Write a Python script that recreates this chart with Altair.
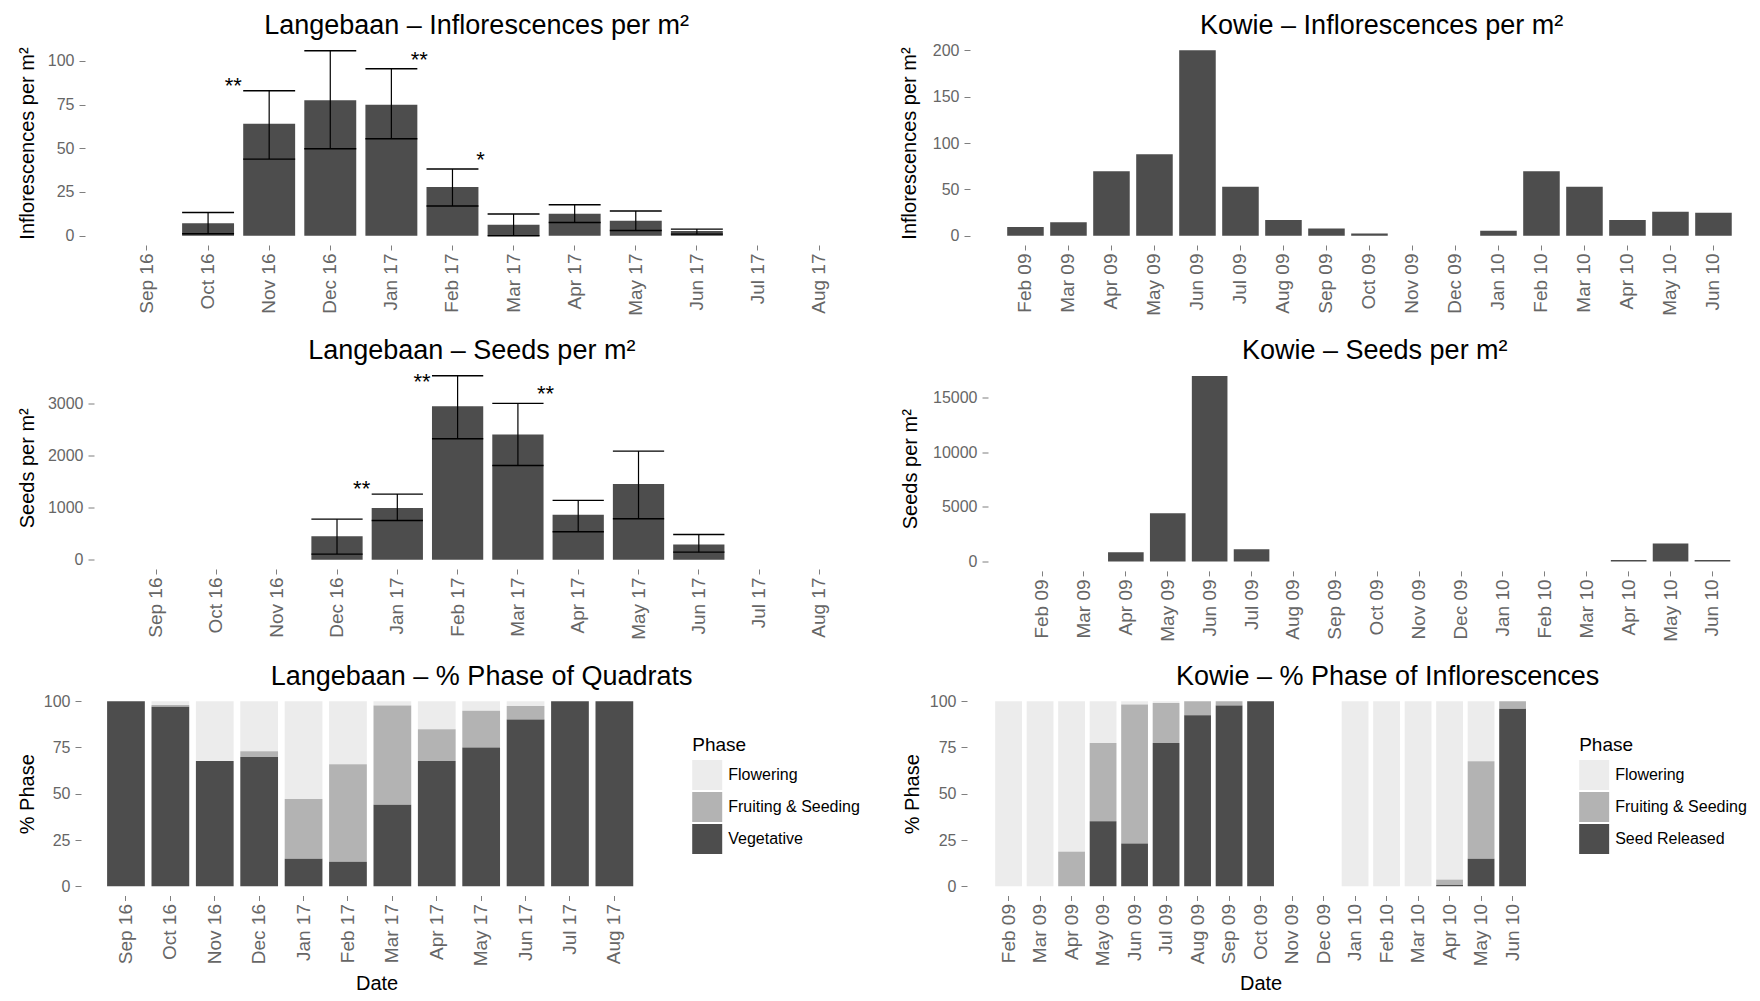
import altair as alt
import pandas as pd

FONT = "Liberation Sans"
BAR = "#4d4d4d"
LBL = "#666666"
TCK = "#7f7f7f"

# ---------------- data ----------------
lang_months = ["Sep 16", "Oct 16", "Nov 16", "Dec 16", "Jan 17", "Feb 17",
               "Mar 17", "Apr 17", "May 17", "Jun 17", "Jul 17", "Aug 17"]
kowie_months = ["Feb 09", "Mar 09", "Apr 09", "May 09", "Jun 09", "Jul 09",
                "Aug 09", "Sep 09", "Oct 09", "Nov 09", "Dec 09", "Jan 10",
                "Feb 10", "Mar 10", "Apr 10", "May 10", "Jun 10"]

lang_infl_mean = [None, 7.2, 64.0, 77.5, 74.9, 27.8, 6.3, 12.6, 8.6, 2.7, None, None]
lang_infl_lo = [None, 1.1, 43.8, 49.7, 55.4, 17.0, 0.0, 7.6, 3.0, 0.9, None, None]
lang_infl_hi = [None, 13.3, 82.9, 105.7, 95.4, 38.1, 12.4, 17.7, 14.1, 3.8, None, None]
lang_infl_star_month = ["Nov 16", "Jan 17", "Feb 17"]
lang_infl_star_label = ["**", "**", "*"]
lang_infl_star_side = ["left", "right", "right"]
lang_infl_star_y = [88.2, 103.4, 45.9]

lang_seed_mean = [None, None, None, 454, 992, 2943, 2405, 864, 1452, 294, None, None]
lang_seed_lo = [None, None, None, 109, 755, 2322, 1810, 537, 787, 147, None, None]
lang_seed_hi = [None, None, None, 780, 1260, 3531, 3000, 1139, 2085, 486, None, None]
lang_seed_star_month = ["Jan 17", "Feb 17", "Mar 17"]
lang_seed_star_label = ["**", "**", "**"]
lang_seed_star_side = ["left", "left", "right"]
lang_seed_star_y = [1460, 3500, 3280]

kowie_infl = [9.4, 14.4, 69.4, 87.8, 200.0, 52.9, 16.9, 7.9, 2.5, None, None,
              5.5, 69.4, 52.9, 16.9, 25.9, 24.8]
kowie_seed = [None, None, 854, 4421, 16983, 1128, None, None, None, None, None,
              None, None, None, 150, 1646, 150]

lang_phases = ["Flowering", "Fruiting & Seeding", "Vegetative"]
lang_veg = [100, 97, 67.7, 69.9, 14.8, 13.3, 44.1, 67.7, 75.0, 90.1, 100, 100]
lang_fruit = [0, 1, 0, 3.1, 32.4, 52.6, 53.6, 17.2, 19.8, 7.4, 0, 0]
lang_flow = [0, 2, 32.3, 27.0, 52.8, 34.1, 2.3, 15.1, 5.2, 2.5, 0, 0]

kowie_phases = ["Flowering", "Fruiting & Seeding", "Seed Released"]
kowie_seedrel = [0, 0, 0, 35.1, 23.1, 77.5, 92.4, 97.7, 100, None, None, 0, 0, 0, 0.7, 14.8, 96.0]
kowie_fruit = [0, 0, 18.7, 42.4, 75.1, 21.6, 7.6, 2.3, 0, None, None, 0, 0, 0, 2.9, 52.8, 4.0]
kowie_flow = [100, 100, 81.3, 22.5, 1.8, 0.9, 0, 0, 0, None, None, 100, 100, 100, 96.4, 32.4, 0]

PHASE_RANGE = ["#ececec", "#b3b3b3", "#4d4d4d"]


# ---------------- helpers ----------------
def xscale(months, L, R, pi=0.15):
    po = (L + R - 1 + pi) / 2
    a = (L - (1 - pi) / 2) / (2 * po)
    return alt.Scale(domain=months, paddingInner=pi, paddingOuter=po, align=a)


def xaxis(title=None):
    kw = dict(labelAngle=270, labelFontSize=19, labelColor=LBL, tickColor=TCK,
              tickSize=5, labelPadding=3, domain=False, grid=False,
              titleFontSize=20, titleFontWeight="normal", titleColor="#000000",
              titlePadding=8)
    kw["title"] = title if title else None
    return alt.Axis(**kw)


def yaxis(title, values, pad, off):
    return alt.Axis(title=title, values=values, format="d", labelFontSize=16,
                    labelColor=LBL, tickColor=TCK, tickSize=6, labelPadding=5,
                    domain=False, grid=False, titleFontSize=20,
                    titleFontWeight="normal", titleColor="#000000",
                    titlePadding=pad, offset=off)


def ttl(text, dx):
    return alt.TitleParams(text=text, fontSize=27, fontWeight="normal",
                           color="#000000", anchor="middle", dx=dx, offset=-25.5,
                           baseline="bottom")


def bar_panel(months, mean, title, tdx, ytitle, ypad, yoff, yvals, ydom, step,
              L, R, H, lo=None, hi=None, stars=None):
    n = len(months)
    W = (n - 1 + L + R) * step
    bw = step * 0.85
    df = pd.DataFrame({"month": months, "mean": mean})
    if lo is not None:
        df["lo"] = lo
        df["hi"] = hi
    x = alt.X("month:N", scale=xscale(months, L, R), axis=xaxis())
    yscale = alt.Scale(domain=ydom, nice=False, zero=False)
    base = alt.Chart(df)
    layers = [base.mark_bar(color=BAR).encode(
        x=x,
        y=alt.Y("mean:Q", scale=yscale, axis=yaxis(ytitle, yvals, ypad, yoff)),
        y2=alt.datum(0))]
    if lo is not None:
        layers.append(base.mark_rule(color="#000000", strokeWidth=1.2).encode(
            x=x, y=alt.Y("lo:Q", scale=yscale), y2="hi:Q"))
        for f in ["lo", "hi"]:
            layers.append(base.mark_tick(color="#000000", thickness=1.4, size=bw,
                                         opacity=1).encode(
                x=x, y=alt.Y(f + ":Q", scale=yscale)))
    if stars is not None:
        sdf = pd.DataFrame({"month": stars[0], "label": stars[1],
                            "side": stars[2], "yv": stars[3]})
        sb = alt.Chart(sdf)
        for side, dx in [("left", -(bw / 2 + 10)), ("right", bw / 2 + 2)]:
            layers.append(sb.transform_filter(alt.datum.side == side).mark_text(
                align="center", baseline="alphabetic", dx=dx, dy=12, fontSize=22,
                color="#000000").encode(
                x=x, y=alt.Y("yv:Q", scale=yscale), text="label:N"))
    return alt.layer(*layers).properties(width=W, height=H, title=ttl(title, tdx))


def phase_panel(months, series, phases, title, tdx, step, L, R, H, ypad, yoff,
                loffset):
    n = len(months)
    W = (n - 1 + L + R) * step
    rows = []
    for i, m in enumerate(months):
        for k, ph in enumerate(phases):
            v = series[k][i]
            if v is None:
                continue
            rows.append({"month": m, "phase": ph, "value": v, "ord": len(phases) - k})
    df = pd.DataFrame(rows)
    x = alt.X("month:N", scale=xscale(months, L, R), axis=xaxis("Date"))
    return alt.Chart(df).mark_bar().encode(
        x=x,
        y=alt.Y("value:Q", stack="zero",
                scale=alt.Scale(domain=[-5, 105], nice=False, zero=False),
                axis=yaxis("% Phase", [0, 25, 50, 75, 100], ypad, yoff)),
        color=alt.Color("phase:N",
                        scale=alt.Scale(domain=phases, range=PHASE_RANGE),
                        legend=alt.Legend(title="Phase", orient="none",
                                          legendX=W + loffset, legendY=44,
                                          symbolType="square",
                                          symbolSize=900, symbolStrokeWidth=0,
                                          symbolOpacity=1, labelFontSize=16,
                                          titleFontSize=19,
                                          titleFontWeight="normal",
                                          titleColor="#000000",
                                          labelColor="#000000", rowPadding=2,
                                          labelOffset=6, padding=0,
                                          titlePadding=5)),
        order=alt.Order("ord:Q", sort="ascending"),
    ).properties(width=W, height=H, title=ttl(title, tdx))


p1 = bar_panel(lang_months, lang_infl_mean, "Langebaan – Inflorescences per m²", -11,
               "Inflorescences per m²", 10, 9, [0, 25, 50, 75, 100], [-5.3, 111.3],
               61.1, 0.867, 1.015, 204,
               lo=lang_infl_lo, hi=lang_infl_hi,
               stars=(lang_infl_star_month, lang_infl_star_label,
                      lang_infl_star_side, lang_infl_star_y))
p2 = bar_panel(kowie_months, kowie_infl, "Kowie – Inflorescences per m²", 27,
               "Inflorescences per m²", 13, 0, [0, 50, 100, 150, 200], [-10, 210],
               43.0, 1.29, 0.6, 204)
p3 = bar_panel(lang_months, lang_seed_mean, "Langebaan – Seeds per m²", -16,
               "Seeds per m²", 10, 0, [0, 1000, 2000, 3000], [-176.5, 3707.5],
               60.3, 1.03, 1.03, 202.5,
               lo=lang_seed_lo, hi=lang_seed_hi,
               stars=(lang_seed_star_month, lang_seed_star_label,
                      lang_seed_star_side, lang_seed_star_y))
p4 = bar_panel(kowie_months, kowie_seed, "Kowie – Seeds per m²", 12,
               "Seeds per m²", 12, 0, [0, 5000, 10000, 15000], [-850, 17850],
               41.9, 1.29, 0.6, 204.4)
p5 = phase_panel(lang_months, [lang_flow, lang_fruit, lang_veg], lang_phases,
                 "Langebaan – % Phase of Quadrats", 105, 44.4, 0.72, 1.01, 203.5,
                 6, 13, 33)
p6 = phase_panel(kowie_months, [kowie_flow, kowie_fruit, kowie_seedrel], kowie_phases,
                 "Kowie – % Phase of Inflorescences", 127, 31.5, 1.32, 1.32, 203.5,
                 7, 0, 25)

chart = alt.vconcat(
    alt.hconcat(p1, p2, spacing=17),
    alt.hconcat(p3, p4, spacing=18),
    alt.hconcat(p5, p6, spacing=41).resolve_scale(color="independent"),
    spacing=20.5,
).resolve_scale(color="independent").properties(
    padding={"left": 9, "top": 3, "right": 0, "bottom": 0}
).configure(font=FONT).configure_view(stroke=None)

chart.save("out.html", embed_options={"renderer": "svg", "actions": False})
